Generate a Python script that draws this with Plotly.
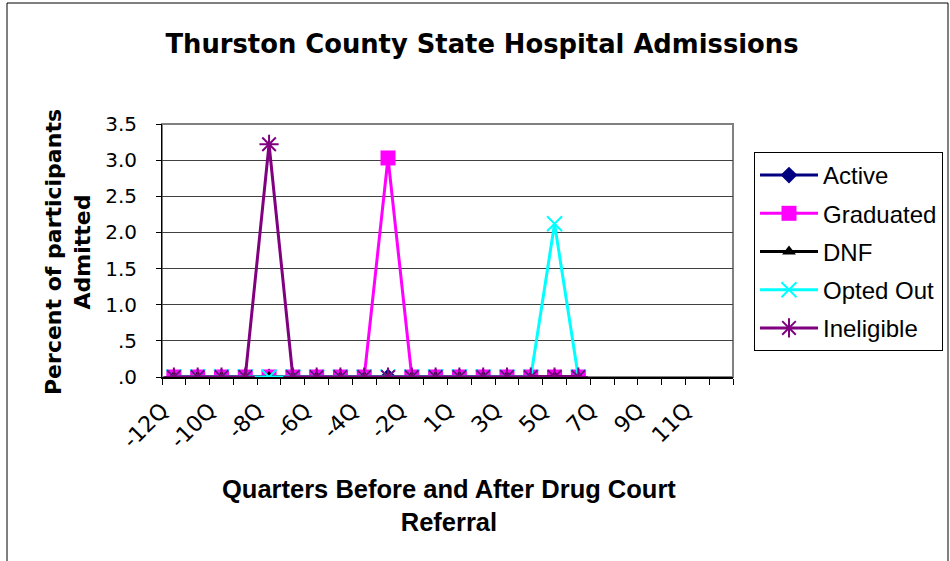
import plotly.graph_objects as go

# ---------------- data ----------------
quarters = ["-12Q", "-11Q", "-10Q", "-9Q", "-8Q", "-7Q", "-6Q", "-5Q", "-4Q", "-3Q", "-2Q", "-1Q",
            "1Q", "2Q", "3Q", "4Q", "5Q", "6Q", "7Q", "8Q", "9Q", "10Q", "11Q", "12Q"]
data_quarters = ["-12Q", "-11Q", "-10Q", "-9Q", "-8Q", "-7Q", "-6Q", "-5Q", "-4Q", "-3Q", "-2Q", "-1Q",
                 "1Q", "2Q", "3Q", "4Q", "5Q", "6Q"]
active =     [0, 0, 0, 0, 0,    0, 0, 0, 0, 0,    0, 0, 0, 0, 0, 0, 0,    0]
graduated =  [0, 0, 0, 0, 0,    0, 0, 0, 0, 3.03, 0, 0, 0, 0, 0, 0, 0,    0]
dnf =        [0, 0, 0, 0, 0,    0, 0, 0, 0, 0,    0, 0, 0, 0, 0, 0, 0,    0]
opted_out =  [0, 0, 0, 0, 0,    0, 0, 0, 0, 0,    0, 0, 0, 0, 0, 0, 2.12, 0]
ineligible = [0, 0, 0, 0, 3.22, 0, 0, 0, 0, 0,    0, 0, 0, 0, 0, 0, 0,    0]

x_tick_labels = ["-12Q", "", "-10Q", "", "-8Q", "", "-6Q", "", "-4Q", "", "-2Q", "",
                 "1Q", "", "3Q", "", "5Q", "", "7Q", "", "9Q", "", "11Q", ""]
y_tick_values = [0, 0.5, 1.0, 1.5, 2.0, 2.5, 3.0, 3.5]
y_tick_labels = [".0", ".5", "1.0", "1.5", "2.0", "2.5", "3.0", "3.5"]

series = [
    ("Active", active, "#000080", "diamond", 13),
    ("Graduated", graduated, "#FF00FF", "square", 15),
    ("DNF", dnf, "#000000", "triangle-up", 12),
    ("Opted Out", opted_out, "#00FFFF", "x-thin-open", 15),
    ("Ineligible", ineligible, "#800080", "asterisk-open", 16),
]

# ---------------- layout geometry ----------------
W, H = 950, 561
PL, PR, PT, PB = 162, 733, 124, 377  # plot area pixel box
def px(xp):
    return (xp - PL) / (PR - PL)
def py(yp):
    return (PB - yp) / (PB - PT)

fig = go.Figure()
for name, vals, color, sym, size in series:
    open_sym = sym.endswith("open")
    fig.add_trace(go.Scatter(
        x=data_quarters, y=vals, name=name, mode="lines+markers",
        legendgroup=name,
        line=dict(color=color, width=3),
        marker=dict(symbol=sym, size=size, color=color,
                    line=dict(color=color, width=2 if open_sym else 0)),
    ))

ARIAL = "Liberation Sans, Arial, sans-serif"
DEJA = "DejaVu Sans, sans-serif"

fig.update_layout(
    width=W, height=H,
    margin=dict(l=PL, r=W - PR, t=PT, b=H - PB, autoexpand=False),
    paper_bgcolor="white", plot_bgcolor="white",
    title=dict(text="Thurston County State Hospital Admissions",
               x=482 / W, xref="container", xanchor="center",
               y=1 - 44 / H, yref="container", yanchor="middle",
               font=dict(family=DEJA, size=25.8, color="black", weight="bold")),
    showlegend=True,
    legend=dict(x=px(754), y=py(152), xanchor="left", yanchor="top",
                bordercolor="black", borderwidth=1, bgcolor="white",
                font=dict(family=ARIAL, size=24, color="black"),
                tracegroupgap=4, itemwidth=58, entrywidth=125, entrywidthmode="pixels"),
    xaxis=dict(type="category", categoryorder="array", categoryarray=quarters,
               range=[-0.5, len(quarters) - 0.5],
               tickmode="array", tickvals=quarters, ticktext=x_tick_labels,
               tickson="boundaries", ticks="outside", ticklen=6, tickcolor="black",
               tickangle=-45, ticklabelshift=-12, ticklabelstandoff=10,
               tickfont=dict(family=DEJA, size=22, color="black"),
               showline=True, linecolor="black", linewidth=1.5,
               showgrid=False, zeroline=False, fixedrange=True, automargin=False),
    yaxis=dict(range=[0, 3.5], tickmode="array", tickvals=y_tick_values, ticktext=y_tick_labels,
               ticks="outside", ticklen=5, tickcolor="black", ticklabelstandoff=15,
               tickfont=dict(family=DEJA, size=20, color="black"),
               showline=True, linecolor="black", linewidth=1,
               showgrid=True, gridcolor="#404040", gridwidth=1,
               zeroline=False, fixedrange=True, automargin=False),
    shapes=[
        dict(type="rect", xref="paper", yref="paper", x0=0, x1=1, y0=0, y1=1,
             line=dict(color="#808080", width=2), layer="below"),
        dict(type="rect", xref="paper", yref="paper",
             x0=px(7), x1=px(948), y0=py(565), y1=py(3),
             line=dict(color="black", width=1), layer="below"),
    ],
    annotations=[
        dict(text="Percent of participants<br>Admitted", xref="paper", yref="paper",
             x=px(68), y=py(252), xanchor="center", yanchor="middle", textangle=-90,
             showarrow=False, font=dict(family=DEJA, size=22, color="black", weight="bold")),
        dict(text="Quarters Before and After Drug Court<br>Referral", xref="paper", yref="paper",
             x=px(449), y=py(505), xanchor="center", yanchor="middle",
             showarrow=False, font=dict(family=ARIAL, size=25.5, color="black", weight="bold")),
    ],
)

fig.write_html("out.html", config={"displayModeBar": False},
               post_script="document.body.style.margin='0px';")
